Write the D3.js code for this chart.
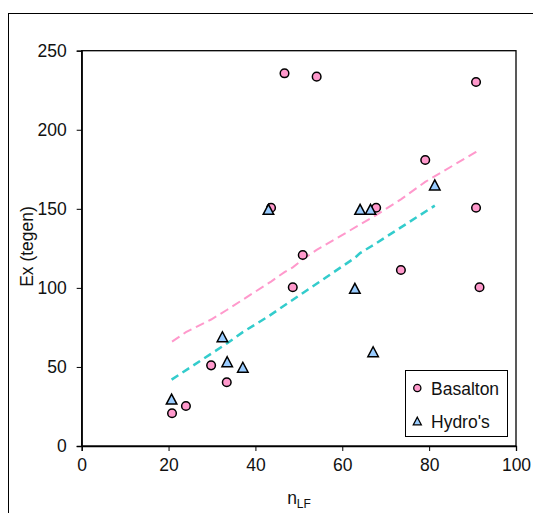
<!DOCTYPE html>
<html>
<head>
<meta charset="utf-8">
<script src="https://cdn.jsdelivr.net/npm/d3@7"></script>
<style>
  html, body { margin: 0; padding: 0; background: #fff; }
  svg { display: block; font-family: "Liberation Sans", Arial, sans-serif; }
</style>
</head>
<body>
<svg id="chart" width="533" height="513"></svg>
<script>
// ---- data ----
const basaltonX = [20.8, 24.0, 29.8, 33.4, 48.6, 46.7, 54.1, 43.6, 50.9, 79.1, 67.8, 90.8, 73.5, 91.6, 90.8];
const basaltonY = [20.7, 25.3, 51.0, 40.3, 100.4, 235.7, 233.6, 150.7, 120.8, 180.9, 150.7, 150.7, 111.3, 100.4, 230.2];
const hydroX = [20.7, 32.4, 33.5, 37.1, 43.0, 64.1, 66.5, 81.3, 62.9, 67.1];
const hydroY = [29.7, 69.1, 53.3, 49.8, 149.7, 149.7, 149.7, 165.1, 99.7, 59.6];
const basaltonFitX = [20.8, 24.0, 29.8, 33.4, 43.6, 46.7, 48.6, 50.9, 54.1, 67.8, 73.5, 79.1, 90.8, 91.6];
const basaltonFitY = [66, 72, 80, 86, 104, 110, 113, 118, 124, 146, 156, 167, 186, 188];
const hydroFitX = [20.7, 32.4, 33.5, 37.1, 43.0, 62.9, 64.1, 66.5, 67.1, 81.3];
const hydroFitY = [42, 63, 65, 72, 82, 119, 122, 126, 127, 152];
const xTicks = [0, 20, 40, 60, 80, 100];
const yTicks = [0, 50, 100, 150, 200, 250];
const seriesNames = ["Basalton", "Hydro's"];

const svg = d3.select("#chart");
const x = d3.scaleLinear().domain([0, 100]).range([81.7, 516]);
const y = d3.scaleLinear().domain([0, 250]).range([446, 50.7]);

// outer chart border
svg.append("rect").attr("x", 8.5).attr("y", 13.5).attr("width", 540).attr("height", 520)
  .attr("fill", "none").attr("stroke", "#000").attr("stroke-width", 1);

// plot frame
svg.append("rect").attr("x", x(0)).attr("y", y(250)).attr("width", x(100) - x(0)).attr("height", y(0) - y(250))
  .attr("fill", "none").attr("stroke", "#000").attr("stroke-width", 1.3);

// axes
const xAxis = svg.append("g").attr("transform", `translate(0,${y(0)})`)
  .call(d3.axisBottom(x).tickValues(xTicks).tickSize(5).tickPadding(8).tickFormat(d3.format("d")));
const yAxis = svg.append("g").attr("transform", `translate(${x(0)},0)`)
  .call(d3.axisLeft(y).tickValues(yTicks).tickSize(5).tickPadding(10).tickFormat(d3.format("d")));
[xAxis, yAxis].forEach(g => {
  g.select(".domain").attr("stroke", "#000").attr("stroke-width", 1.3);
  g.selectAll(".tick line").attr("stroke", "#000").attr("stroke-width", 1);
  g.selectAll(".tick text").attr("fill", "#111").style("font-size", "17.5px")
    .style("font-family", '"Liberation Sans", Arial, sans-serif');
});

// fitted lines
const line = d3.line().x(d => x(d[0])).y(d => y(d[1]));
svg.append("path").datum(basaltonFitX.map((v, i) => [v, basaltonFitY[i]]))
  .attr("d", line).attr("fill", "none").attr("stroke", "#ff99cc")
  .attr("stroke-width", 2).attr("stroke-dasharray", "9,5");
svg.append("path").datum(hydroFitX.map((v, i) => [v, hydroFitY[i]]))
  .attr("d", line).attr("fill", "none").attr("stroke", "#33cccc")
  .attr("stroke-width", 2.5).attr("stroke-dasharray", "8,5");

// markers
const tri = d3.symbol().type(d3.symbolTriangle);
function triPath(w) {
  const h = w * 0.95;
  return `M0,${-h / 2}L${w / 2},${h / 2}L${-w / 2},${h / 2}Z`;
}
svg.append("g").selectAll("circle").data(basaltonX.map((v, i) => [v, basaltonY[i]]))
  .join("circle").attr("cx", d => x(d[0])).attr("cy", d => y(d[1])).attr("r", 4.3)
  .attr("fill", "#ff99cc").attr("stroke", "#000").attr("stroke-width", 1.5);
svg.append("g").selectAll("path").data(hydroX.map((v, i) => [v, hydroY[i]]))
  .join("path").attr("transform", d => `translate(${x(d[0])},${y(d[1])})`)
  .attr("d", triPath(10.5))
  .attr("fill", "#99ccff").attr("stroke", "#000").attr("stroke-width", 1.5).attr("stroke-linejoin", "miter");

// legend
const lg = svg.append("g");
lg.append("rect").attr("x", 405.5).attr("y", 370.5).attr("width", 102).attr("height", 66)
  .attr("fill", "#fff").attr("stroke", "#000").attr("stroke-width", 1);
lg.append("circle").attr("cx", 417.3).attr("cy", 388).attr("r", 3.6)
  .attr("fill", "#ff99cc").attr("stroke", "#000").attr("stroke-width", 1.3);
lg.append("path").attr("transform", "translate(417.3,421)").attr("d", triPath(8))
  .attr("fill", "#99ccff").attr("stroke", "#000").attr("stroke-width", 1.3);
lg.append("text").attr("x", 431).attr("y", 394.5).text(seriesNames[0])
  .style("font-size", "17.5px").attr("fill", "#111");
lg.append("text").attr("x", 431).attr("y", 427.5).text(seriesNames[1])
  .style("font-size", "17.5px").attr("fill", "#111");

// axis titles
svg.append("text").attr("transform", "translate(33,246.5) rotate(-90)")
  .attr("text-anchor", "middle").style("font-size", "17.5px").attr("fill", "#111").text("Ex (tegen)");
const xt = svg.append("text").attr("x", 299).attr("y", 504).attr("text-anchor", "middle")
  .style("font-size", "17.5px").attr("fill", "#111");
xt.append("tspan").text("n");
xt.append("tspan").attr("dy", 4).style("font-size", "12px").text("LF");
</script>
</body>
</html>
